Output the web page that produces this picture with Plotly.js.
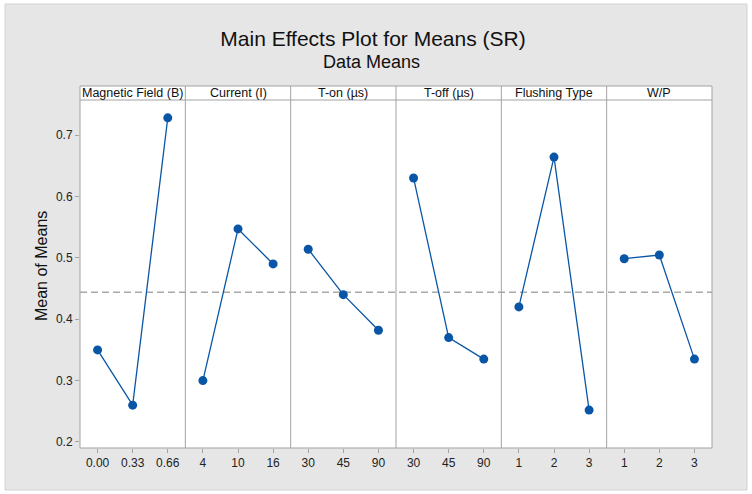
<!DOCTYPE html>
<html>
<head>
<meta charset="utf-8">
<script src="https://cdn.plot.ly/plotly-3.0.1.min.js"></script>
<style>
  html, body { margin: 0; padding: 0; background: #ffffff; }
  #chart { width: 752px; height: 494px; }
</style>
</head>
<body>
<div id="chart"></div>
<script>
// ---- Data ----
const factors = ['Magnetic Field (B)', 'Current (I)', 'T-on (µs)', 'T-off (µs)', 'Flushing Type', 'W/P'];
const levels = [
  ['0.00', '0.33', '0.66'],
  ['4', '10', '16'],
  ['30', '45', '90'],
  ['30', '45', '90'],
  ['1', '2', '3'],
  ['1', '2', '3']
];
const magneticMeans = [0.350, 0.260, 0.728];
const currentMeans  = [0.300, 0.547, 0.490];
const tonMeans      = [0.514, 0.440, 0.382];
const toffMeans     = [0.630, 0.370, 0.335];
const flushMeans    = [0.420, 0.664, 0.252];
const wpMeans       = [0.4985, 0.5045, 0.335];
const grandMean = 0.444;
const yTicks = [0.2, 0.3, 0.4, 0.5, 0.6, 0.7];

const seriesMeans = [magneticMeans, currentMeans, tonMeans, toffMeans, flushMeans, wpMeans];

// ---- Layout geometry ----
const W = 752, H = 494;
const M = { l: 80, r: 40, t: 100, b: 46 };
const pw = W - M.l - M.r, ph = H - M.t - M.b;
const px = x => (x - M.l) / pw;          // pixel -> paper x
const py = y => (H - M.b - y) / ph;      // pixel -> paper y
const headerTop = py(86);
const n = factors.length;

const FONT = 'Liberation Sans, Arial, sans-serif';
const BLUE = '#0a56a6';
const GRID = '#a3a3a3';

const traces = [];
const layout = {
  width: W, height: H,
  margin: M,
  paper_bgcolor: '#ffffff',
  plot_bgcolor: 'rgba(0,0,0,0)',
  showlegend: false,
  font: { family: FONT, color: '#222222', size: 12 },
  title: {
    text: 'Main Effects Plot for Means (SR)',
    font: { family: FONT, size: 21, color: '#111111' },
    x: 373 / W, xanchor: 'center', xref: 'container',
    y: 1 - 39 / H, yanchor: 'middle', yref: 'container'
  },
  yaxis: {
    range: [0.1902, 0.757],
    tickvals: yTicks,
    tickformat: '.1f',
    ticks: 'outside', ticklen: 4, tickcolor: GRID, tickwidth: 1,
    showgrid: false, zeroline: false, showline: false,
    tickfont: { family: FONT, size: 12, color: '#222222' },
    fixedrange: true
  },
  shapes: [],
  annotations: []
};

// background panel (gray) and white plot + header area
layout.shapes.push({
  type: 'rect', xref: 'paper', yref: 'paper',
  x0: px(5), x1: px(747), y0: py(490), y1: py(4),
  fillcolor: '#e6e6e6', line: { color: '#d2d2d2', width: 1 }, layer: 'below'
});
layout.shapes.push({
  type: 'rect', xref: 'paper', yref: 'paper',
  x0: 0, x1: 1, y0: 0, y1: headerTop,
  fillcolor: '#ffffff', line: { width: 0 }, layer: 'below'
});
// grand mean dashed reference line
layout.shapes.push({
  type: 'line', xref: 'paper', yref: 'y',
  x0: 0, x1: 1, y0: grandMean, y1: grandMean,
  line: { color: '#a8a8a8', width: 1.5, dash: '7px,4px' }, layer: 'below'
});

for (let i = 0; i < n; i++) {
  const ax = i === 0 ? 'xaxis' : 'xaxis' + (i + 1);
  const xref = i === 0 ? 'x' : 'x' + (i + 1);
  layout[ax] = {
    domain: [i / n, (i + 1) / n],
    anchor: 'y',
    type: 'category',
    range: [-0.5, 2.5],
    ticks: 'outside', ticklen: 4, tickcolor: GRID, tickwidth: 1,
    showgrid: false, zeroline: false, showline: false,
    tickfont: { family: FONT, size: 12, color: '#222222' },
    fixedrange: true
  };
  traces.push({
    type: 'scatter', mode: 'lines+markers',
    x: levels[i], y: seriesMeans[i],
    xaxis: xref, yaxis: 'y',
    line: { color: BLUE, width: 1.3 },
    marker: { color: BLUE, size: 9 },
    hoverinfo: 'x+y'
  });
  // header label
  layout.annotations.push({
    text: factors[i], xref: 'paper', yref: 'paper',
    x: (i + 0.5) / n, y: (1 + headerTop) / 2,
    xanchor: 'center', yanchor: 'middle', showarrow: false,
    font: { family: FONT, size: 12.5, color: '#111111' }
  });
  // vertical divider
  if (i > 0) {
    layout.shapes.push({
      type: 'line', xref: 'paper', yref: 'paper',
      x0: i / n, x1: i / n, y0: 0, y1: headerTop,
      line: { color: GRID, width: 1 }, layer: 'above'
    });
  }
}
// outer frame and header separator
layout.shapes.push({
  type: 'rect', xref: 'paper', yref: 'paper',
  x0: 0, x1: 1, y0: 0, y1: headerTop,
  line: { color: GRID, width: 1 }, layer: 'above'
});
layout.shapes.push({
  type: 'line', xref: 'paper', yref: 'paper',
  x0: 0, x1: 1, y0: 1, y1: 1,
  line: { color: GRID, width: 1 }, layer: 'above'
});

// subtitle
layout.annotations.push({
  text: 'Data Means', xref: 'paper', yref: 'paper',
  x: px(371), y: py(62), xanchor: 'center', yanchor: 'middle', showarrow: false,
  font: { family: FONT, size: 18, color: '#111111' }
});
// y-axis title
layout.annotations.push({
  text: 'Mean of Means', xref: 'paper', yref: 'paper',
  x: px(41), y: py(266), xanchor: 'center', yanchor: 'middle', showarrow: false,
  textangle: -90,
  font: { family: FONT, size: 16, color: '#111111' }
});

Plotly.newPlot('chart', traces, layout, { displayModeBar: false, staticPlot: true });
</script>
</body>
</html>
